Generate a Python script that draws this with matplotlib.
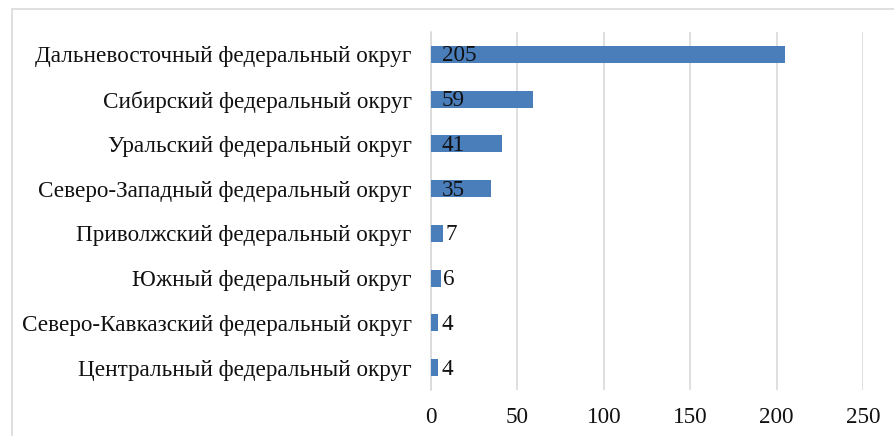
import matplotlib
matplotlib.use("Agg")
import matplotlib.pyplot as plt
from matplotlib.patches import Rectangle

categories = [
    "Центральный федеральный округ",
    "Северо-Кавказский федеральный округ",
    "Южный федеральный округ",
    "Приволжский федеральный округ",
    "Северо-Западный федеральный округ",
    "Уральский федеральный округ",
    "Сибирский федеральный округ",
    "Дальневосточный федеральный округ",
]
values = [4, 4, 6, 7, 35, 41, 59, 205]
xticks = [0, 50, 100, 150, 200, 250]

plt.rcParams['font.family'] = ['Liberation Serif', 'DejaVu Serif']

W, H = 894, 436
fig = plt.figure(figsize=(W/100, H/100), dpi=100)
fig.patches.append(Rectangle((12/W, -0.1), 1.2, 1 - 9/H + 0.1, transform=fig.transFigure,
                             fill=False, edgecolor='#d9d9d9', linewidth=1.2))

left, right, top, bottom = 431, 863, 32, 390
ax = fig.add_axes([left/W, 1 - bottom/H, (right-left)/W, (bottom-top)/H])
y = list(range(len(categories)))
ax.barh(y, values, height=0.38, color='#4a7ebb', zorder=3)
ax.set_xlim(0, 250)
ax.set_ylim(-0.5, len(categories) - 0.5)
ax.set_xticks(xticks)
ax.set_xticklabels([str(t) for t in xticks])
ax.set_yticks(y)
ax.set_yticklabels(categories)
ax.tick_params(axis='both', length=0, labelsize=16.7, colors='#111111')
ax.tick_params(axis='x', pad=12)
ax.tick_params(axis='y', pad=14)
ax.grid(axis='x', color='#d9d9d9', linewidth=1.2, zorder=0)
for s in ['top', 'right', 'bottom']:
    ax.spines[s].set_visible(False)
ax.spines['left'].set_color('#d9d9d9')
ax.spines['left'].set_linewidth(1.2)

pxper = (right - left) / 250.0
for yi, v in zip(y, values):
    barpx = v * pxper
    off = 11 if barpx > 30 else max(10, barpx + 2)
    ax.annotate(str(v), xy=(0, yi), xytext=(off * 0.72, -1), textcoords='offset points',
                ha='left', va='center', fontsize=16.7, color='#111111', zorder=4)

fig.savefig('out.png', dpi=100)
